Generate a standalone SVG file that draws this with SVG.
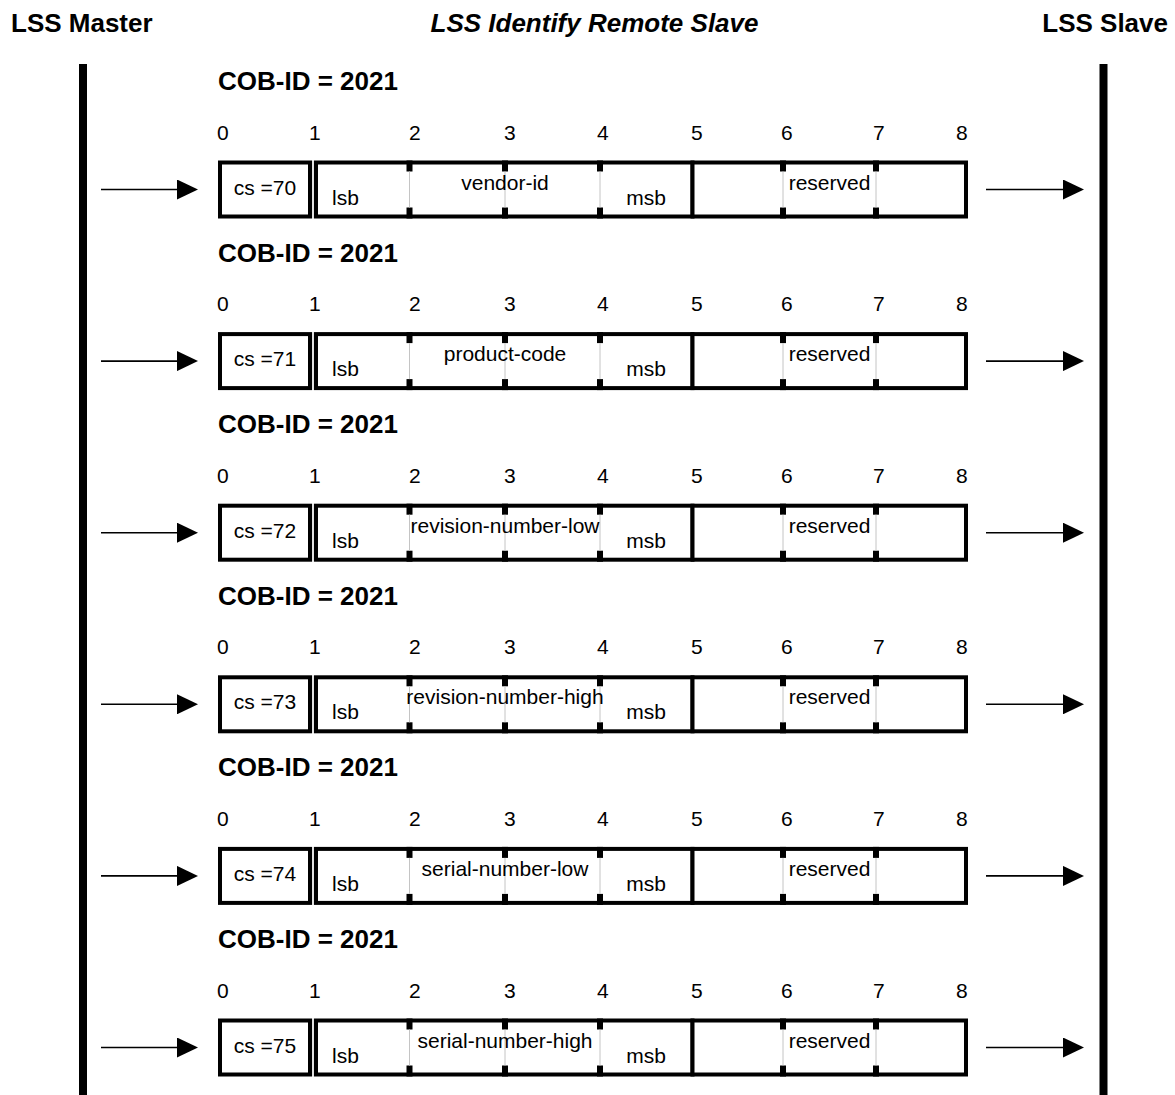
<svg xmlns="http://www.w3.org/2000/svg" width="1175" height="1095" viewBox="0 0 1175 1095">
<style>
text{font-family:"Liberation Sans",Arial,sans-serif;fill:#000}
.title{font-size:26px;font-weight:bold}
.ital{font-style:italic}
.cob{font-size:26px;font-weight:bold}
.idx{font-size:21px}
.t{font-size:21px}
.mid{text-anchor:middle}
.box{fill:#fff;stroke:#000;stroke-width:4}
.thin{stroke:#c4c4c4;stroke-width:1}
.arr{stroke:#000;stroke-width:1.6;fill:none}
</style>
<defs>
<marker id="ah" markerUnits="userSpaceOnUse" markerWidth="21" markerHeight="20" refX="0" refY="10" orient="auto">
<path d="M0,0 L21,10 L0,20 z" fill="#000"/>
</marker>
<g id="frame">
<rect class="box" x="220" y="-27" width="90" height="54"/>
<rect class="box" x="316" y="-27" width="376.5" height="54"/>
<rect class="box" x="692.5" y="-27" width="273.5" height="54"/>
<line class="thin" x1="313" y1="-29" x2="313" y2="29"/>
<g fill="#000">
<rect x="406.5" y="-29" width="6" height="11"/><rect x="406.5" y="18" width="6" height="11"/>
<rect x="502" y="-29" width="6" height="11"/><rect x="502" y="18" width="6" height="11"/>
<rect x="597" y="-29" width="6" height="11"/><rect x="597" y="18" width="6" height="11"/>
<rect x="780" y="-29" width="6" height="11"/><rect x="780" y="18" width="6" height="11"/>
<rect x="873" y="-29" width="6" height="11"/><rect x="873" y="18" width="6" height="11"/>
</g>
<line class="thin" x1="409.5" y1="-18" x2="409.5" y2="18"/>
<line class="thin" x1="505" y1="-18" x2="505" y2="18"/>
<line class="thin" x1="600" y1="-18" x2="600" y2="18"/>
<line class="thin" x1="783" y1="-18" x2="783" y2="18"/>
<line class="thin" x1="876" y1="-18" x2="876" y2="18"/>
<text class="t" x="332" y="15">lsb</text>
<text class="t mid" x="646" y="15">msb</text>
<text class="t mid" x="829.5" y="0">reserved</text>
<text class="idx" x="217" y="-50">0</text>
<text class="idx" x="309" y="-50">1</text>
<text class="idx" x="409" y="-50">2</text>
<text class="idx" x="504" y="-50">3</text>
<text class="idx" x="597" y="-50">4</text>
<text class="idx" x="691" y="-50">5</text>
<text class="idx" x="781" y="-50">6</text>
<text class="idx" x="873" y="-50">7</text>
<text class="idx" x="956" y="-50">8</text>
<text class="cob" x="218" y="-99.5">COB-ID = 2021</text>
</g>
</defs>

<g id="headers">
<text class="title" x="11" y="32">LSS Master</text>
<text class="title ital mid" x="594.5" y="32">LSS Identify Remote Slave</text>
<text class="title" x="1168" y="32" text-anchor="end">LSS Slave</text>
</g>

<g id="lss-master"><rect x="79" y="64" width="8" height="1031" fill="#000"/></g>
<g id="lss-slave"><rect x="1099.5" y="64" width="8" height="1031" fill="#000"/></g>

<g id="msg-70" transform="translate(0,189.5)">
<use href="#frame"/>
<text class="t mid" x="265" y="5">cs =70</text>
<text class="t mid" x="505" y="0">vendor-id</text>
</g>
<g id="msg-71" transform="translate(0,361.1)">
<use href="#frame"/>
<text class="t mid" x="265" y="5">cs =71</text>
<text class="t mid" x="505" y="0">product-code</text>
</g>
<g id="msg-72" transform="translate(0,532.7)">
<use href="#frame"/>
<text class="t mid" x="265" y="5">cs =72</text>
<text class="t mid" x="505" y="0">revision-number-low</text>
</g>
<g id="msg-73" transform="translate(0,704.3)">
<use href="#frame"/>
<text class="t mid" x="265" y="5">cs =73</text>
<text class="t mid" x="505" y="0">revision-number-high</text>
</g>
<g id="msg-74" transform="translate(0,875.9)">
<use href="#frame"/>
<text class="t mid" x="265" y="5">cs =74</text>
<text class="t mid" x="505" y="0">serial-number-low</text>
</g>
<g id="msg-75" transform="translate(0,1047.5)">
<use href="#frame"/>
<text class="t mid" x="265" y="5">cs =75</text>
<text class="t mid" x="505" y="0">serial-number-high</text>
</g>

<g id="connectors">
<line class="arr" x1="101" y1="189.5" x2="177" y2="189.5" marker-end="url(#ah)"/>
<line class="arr" x1="986" y1="189.5" x2="1063" y2="189.5" marker-end="url(#ah)"/>
<line class="arr" x1="101" y1="361.1" x2="177" y2="361.1" marker-end="url(#ah)"/>
<line class="arr" x1="986" y1="361.1" x2="1063" y2="361.1" marker-end="url(#ah)"/>
<line class="arr" x1="101" y1="532.7" x2="177" y2="532.7" marker-end="url(#ah)"/>
<line class="arr" x1="986" y1="532.7" x2="1063" y2="532.7" marker-end="url(#ah)"/>
<line class="arr" x1="101" y1="704.3" x2="177" y2="704.3" marker-end="url(#ah)"/>
<line class="arr" x1="986" y1="704.3" x2="1063" y2="704.3" marker-end="url(#ah)"/>
<line class="arr" x1="101" y1="875.9" x2="177" y2="875.9" marker-end="url(#ah)"/>
<line class="arr" x1="986" y1="875.9" x2="1063" y2="875.9" marker-end="url(#ah)"/>
<line class="arr" x1="101" y1="1047.5" x2="177" y2="1047.5" marker-end="url(#ah)"/>
<line class="arr" x1="986" y1="1047.5" x2="1063" y2="1047.5" marker-end="url(#ah)"/>
</g>
</svg>
